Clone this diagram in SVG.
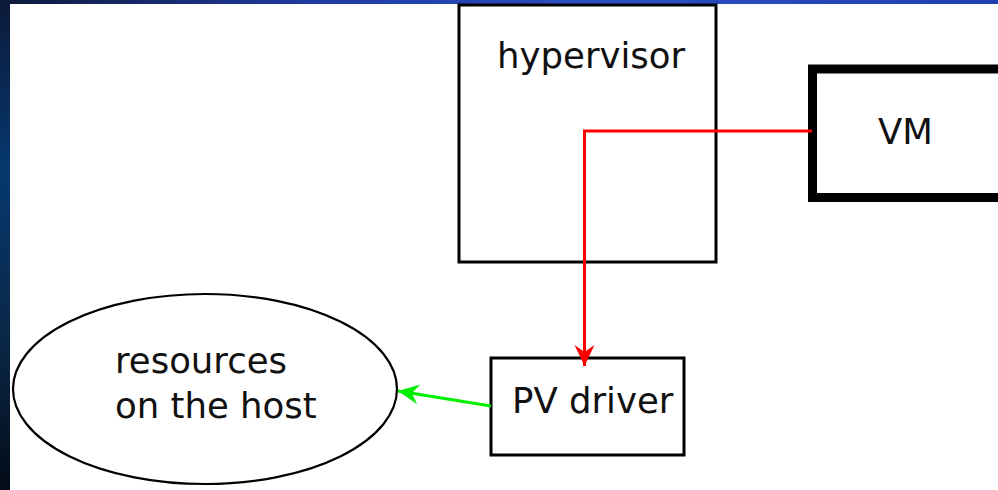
<svg xmlns="http://www.w3.org/2000/svg" width="998" height="490" viewBox="0 0 998 490">
  <defs>
    <linearGradient id="side" x1="0" y1="0" x2="0" y2="1">
      <stop offset="0" stop-color="#0c1a3a"/>
      <stop offset="0.35" stop-color="#06386e"/>
      <stop offset="0.7" stop-color="#0a2746"/>
      <stop offset="1" stop-color="#030b18"/>
    </linearGradient>
    <linearGradient id="top" x1="0" y1="0" x2="1" y2="0">
      <stop offset="0" stop-color="#0d1b3d"/>
      <stop offset="0.3" stop-color="#1f3aa0"/>
      <stop offset="0.6" stop-color="#2a4fc4"/>
      <stop offset="1" stop-color="#2040b0"/>
    </linearGradient>
    <marker id="arrRed" markerUnits="userSpaceOnUse" markerWidth="24" markerHeight="24" viewBox="-22 -12 24 24" refX="0" refY="0" orient="auto">
      <path d="M0,0 L-21,-10 L-14,0 L-21,10 Z" fill="#ff0000"/>
    </marker>
    <marker id="arrGreen" markerUnits="userSpaceOnUse" markerWidth="24" markerHeight="24" viewBox="-22 -12 24 24" refX="0" refY="0" orient="auto">
      <path d="M0,0 L-21,-10 L-14,0 L-21,10 Z" fill="#00ee00"/>
    </marker>
  </defs>
  <style>
    .box { fill: #ffffff; stroke: #000000; stroke-width: 3; }
    .lbl { font-family: "DejaVu Sans", "Liberation Sans", sans-serif; font-size: 35.5px; fill: #111111; }
  </style>
  <rect x="0" y="0" width="998" height="490" fill="url(#side)"/>
  <rect x="10" y="0" width="988" height="5" fill="url(#top)"/>
  <rect x="10" y="4" width="988" height="486" fill="#ffffff"/>

  <g id="hypervisor">
    <rect class="box" x="459" y="5" width="257" height="257"/>
    <text class="lbl" x="497" y="68">hypervisor</text>
  </g>
  <g id="vm">
    <rect x="812.5" y="69" width="200" height="128.5" fill="#ffffff" stroke="#000000" stroke-width="9"/>
    <text class="lbl" x="878" y="144">VM</text>
  </g>
  <g id="pv-driver">
    <rect class="box" x="491" y="358" width="193" height="97"/>
    <text class="lbl" x="512" y="413">PV driver</text>
  </g>
  <g id="resources">
    <ellipse cx="205" cy="389" rx="192" ry="95" fill="#ffffff" stroke="#000000" stroke-width="2.2"/>
    <text class="lbl" x="115" y="373">resources</text>
    <text class="lbl" x="115" y="418">on the host</text>
  </g>
  <g id="connectors">
    <polyline points="812,131 584.5,131 584.5,366" fill="none" stroke="#ff0000" stroke-width="3" marker-end="url(#arrRed)"/>
    <line x1="491" y1="406" x2="398" y2="391" stroke="#00ee00" stroke-width="3" marker-end="url(#arrGreen)"/>
  </g>
</svg>
